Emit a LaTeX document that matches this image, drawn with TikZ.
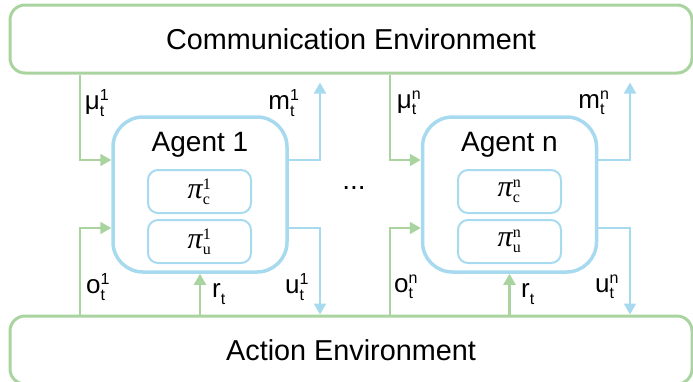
\documentclass[tikz,border=0pt]{standalone}
\usepackage{fontspec}
\setmainfont{Liberation Sans}
\newfontfamily\pifont{Liberation Serif}
\usetikzlibrary{arrows.meta}
\definecolor{envgreen}{RGB}{169,212,159}
\definecolor{agblue}{RGB}{168,218,239}
\newcommand{\subsz}{\fontsize{16}{16}\selectfont}
\newcommand{\sig}[3]{$\hbox{#1}^{\hbox{\subsz #3}}_{\hbox{\subsz #2}}$}
\newcommand{\pol}[2]{$\hbox{\pifont\itshape π}^{\hbox{\pifont\subsz #2}}_{\hbox{\pifont\subsz #1}}$}
\tikzset{
  env/.style={draw=envgreen, line width=3pt, rounded corners=15pt, minimum width=682pt, minimum height=68pt, font=\fontsize{28.8}{30}\selectfont},
  agent/.style={draw=agblue, line width=3.5pt, rounded corners=30pt, minimum width=174pt, minimum height=155pt},
  policy/.style={draw=agblue, line width=2pt, rounded corners=10pt, minimum width=103pt, minimum height=43pt, font=\fontsize{30}{30}\selectfont},
  garrow/.style={draw=envgreen, line width=2.2pt, -{Triangle[length=11pt,width=12pt]}},
  barrow/.style={draw=agblue, line width=2.2pt, -{Triangle[length=11pt,width=12pt]}},
  lbl/.style={font=\fontsize{26}{28}\selectfont, inner sep=0pt}
}
\begin{document}
\begin{tikzpicture}[x=1pt,y=-1pt]
	\useasboundingbox (0,0) rectangle (693,381);
	\node[env] (comm) at (351,39) {Communication Environment};
	\node[env] (act) at (351,350) {Action Environment};
	% agents
	\node[agent] (ag1) at (200,194.5) {};
	\node[agent] (agn) at (509.5,194.5) {};
	\node[font=\fontsize{28}{30}\selectfont] (ag1t) at (200,145) {Agent 1};
	\node[font=\fontsize{28}{30}\selectfont] (agnt) at (509.5,145) {Agent n};
	\node[policy] (pc1) at (199.5,191.5) {\pol{c}{1}};
	\node[policy] (pu1) at (199.5,241.5) {\pol{u}{1}};
	\node[policy] (pcn) at (509.5,191.5) {\pol{c}{n}};
	\node[policy] (pun) at (509.5,241.5) {\pol{u}{n}};
	\node[font=\fontsize{28}{30}\selectfont] (dots) at (354,188) {...};
	% turning points
	\coordinate (mu1) at (80,160);
	\coordinate (m1) at (320,160);
	\coordinate (o1) at (80,228);
	\coordinate (u1) at (320,228);
	\coordinate (mun) at (390,160);
	\coordinate (mn) at (630,160);
	\coordinate (on) at (390,228);
	\coordinate (un) at (630,228);
	\draw[garrow] (mu1 |- comm.south) |- (ag1.west |- mu1);
	\draw[barrow, shorten >=8pt] (ag1.east |- m1) -| (m1 |- comm.south);
	\draw[garrow] (o1 |- act.north) |- (ag1.west |- o1);
	\draw[barrow] (ag1.east |- u1) -| (u1 |- act.north);
	\draw[garrow] (act.north -| ag1.south) -- (ag1.south);
	\draw[garrow] (mun |- comm.south) |- (agn.west |- mun);
	\draw[barrow, shorten >=8pt] (agn.east |- mn) -| (mn |- comm.south);
	\draw[garrow] (on |- act.north) |- (agn.west |- on);
	\draw[barrow] (agn.east |- un) -| (un |- act.north);
	\draw[garrow] (act.north -| agn.south) -- (agn.south);
	% labels
	\node[lbl] (lmu1) at (97,103) {\sig{μ}{t}{1}};
	\node[lbl] (lm1) at (284,103) {\sig{m}{t}{1}};
	\node[lbl] (lo1) at (98,287) {\sig{o}{t}{1}};
	\node[lbl] (lr1) at (219,294) {\sig{r}{t}{}};
	\node[lbl] (lu1) at (297,287) {\sig{u}{t}{1}};
	\node[lbl] (lmun) at (409,103) {\sig{μ}{t}{n}};
	\node[lbl] (lmn) at (594,103) {\sig{m}{t}{n}};
	\node[lbl] (lon) at (406,287) {\sig{o}{t}{n}};
	\node[lbl] (lrn) at (528,294) {\sig{r}{t}{}};
	\node[lbl] (lun) at (607,287) {\sig{u}{t}{n}};
\end{tikzpicture}
\end{document}
